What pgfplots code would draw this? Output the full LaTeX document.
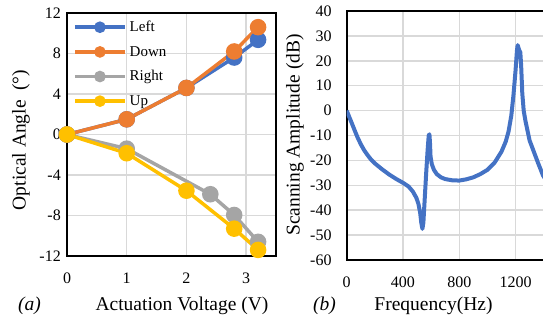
\documentclass[border=0pt]{standalone}
\usepackage{fontspec}
\setmainfont{Liberation Serif}
\usepackage{pgfplots}
\usepackage{pgfplotstable}
\pgfplotsset{compat=1.18}
\definecolor{cblue}{HTML}{4472C4}
\definecolor{corange}{HTML}{ED7D31}
\definecolor{cgray}{HTML}{A5A5A5}
\definecolor{cyellow}{HTML}{FFC000}
\definecolor{gridc}{HTML}{D9D9D9}
\newcommand\lblfont{\fontsize{19.5}{20}\selectfont}
\newcommand\tickfont{\fontsize{16}{16}\selectfont}
\newcommand\legfont{\fontsize{15}{15}\selectfont}

\pgfplotstableread{
f db
0 0
25 -3.5
50 -7
75 -10.5
100 -13.5
125 -16
150 -18
175 -19.8
200 -21.2
250 -23.5
300 -25.6
350 -27.4
400 -29
440 -30.5
470 -32.5
495 -35
510 -37.5
522 -41
530 -45
538 -47.5
545 -45
555 -35
565 -25
575 -16
583 -10
588 -9.5
592 -13
596 -18.5
605 -21.5
620 -23.8
640 -25.5
670 -26.8
700 -27.5
750 -28
800 -28.1
850 -27.6
900 -26.8
950 -25.5
1000 -23.8
1050 -21
1100 -16.5
1130 -12.5
1150 -8.5
1170 -2
1185 6
1200 16
1210 24
1215 26.3
1222 25
1228 24
1234 23.5
1240 18
1248 7
1258 0
1270 -4
1300 -12
1330 -16.5
1360 -21
1395 -26
1450 -31
1500 -34
}\freq

\pgfplotsset{
  mystyle/.style={
    scale only axis,
    /pgf/number format/assume math mode=true,
    /pgf/number format/1000 sep={},
    tick label style={font=\tickfont},
    major tick length=0pt,
    grid=major,
    major grid style={draw=gridc, line width=1.5pt},
    axis line style={line width=2.2pt, black},
    xticklabel style={anchor=base, yshift=-28pt},
    yticklabel style={anchor=east, inner sep=0pt},
  }
}

\begin{document}
\begin{tikzpicture}
\useasboundingbox (0pt,0pt) rectangle (543pt,320pt);
\clip (0pt,0pt) rectangle (543pt,320pt);
\begin{axis}[mystyle,
  at={(67pt,64pt)}, anchor=south west,
  width=209pt, height=243pt,
  xmin=0, xmax=3.5, ymin=-12, ymax=12,
  xtick={0,1,2,3}, ytick={-12,-8,-4,0,4,8,12},
  yticklabel style={xshift=-6pt},
  clip=false,
  legend style={draw=none, fill=none, at={(rel axis cs:0,1)}, anchor=north west,
    xshift=3pt, yshift=-5pt, font=\legfont, row sep=11pt, column sep=2pt,
    nodes={inner sep=1pt}},
  legend cell align=left,
  legend image code/.code={\draw[line width=3.5pt] (0pt,0pt) -- (50pt,0pt); \fill (25pt,0pt) circle (4pt);},
  every axis plot/.append style={line width=3.5pt, mark=*, mark size=6.5pt, mark options={solid}},
]
\addplot[color=cblue] coordinates {(0,0) (1,1.5) (2,4.6) (2.8,7.6) (3.2,9.35)};
\addlegendentry{Left}
\addplot[color=corange] coordinates {(0,0) (1,1.5) (2,4.6) (2.8,8.2) (3.2,10.6)};
\addlegendentry{Down}
\addplot[color=cgray] coordinates {(0,0) (1,-1.4) (2.4,-5.9) (2.8,-7.95) (3.2,-10.6)};
\addlegendentry{Right}
\addplot[color=cyellow] coordinates {(0,0) (1,-1.85) (2,-5.55) (2.8,-9.3) (3.2,-11.4)};
\addlegendentry{Up}
\end{axis}
\begin{axis}[mystyle,
  at={(346.7pt,60pt)}, anchor=south west,
  width=225.1pt, height=249pt,
  xmin=0, xmax=1600, ymin=-60, ymax=40,
  xtick={0,400,800,1200}, ytick={-60,-50,-40,-30,-20,-10,0,10,20,30,40},
  yticklabel style={xshift=-15pt},
]
\addplot[color=cblue, line width=4pt, line join=round, no marks] table[x=f, y=db] {\freq};
\end{axis}
\node[rotate=90, font=\lblfont] at (21pt,180pt) {Optical Angle\ \ (°)};
\node[rotate=90, font=\lblfont] at (295pt,185pt) {Scanning Amplitude (dB)};
\node[anchor=base, inner sep=0pt, font=\lblfont] at (182pt,9pt) {Actuation Voltage (V)};
\node[anchor=base west, inner sep=0pt, font=\lblfont\itshape] at (18pt,9pt) {(a)};
\node[anchor=base, inner sep=0pt, font=\lblfont] at (433.5pt,9pt) {Frequency(Hz)};
\node[anchor=base west, inner sep=0pt, font=\lblfont\itshape] at (313pt,9pt) {(b)};
\end{tikzpicture}
\end{document}
